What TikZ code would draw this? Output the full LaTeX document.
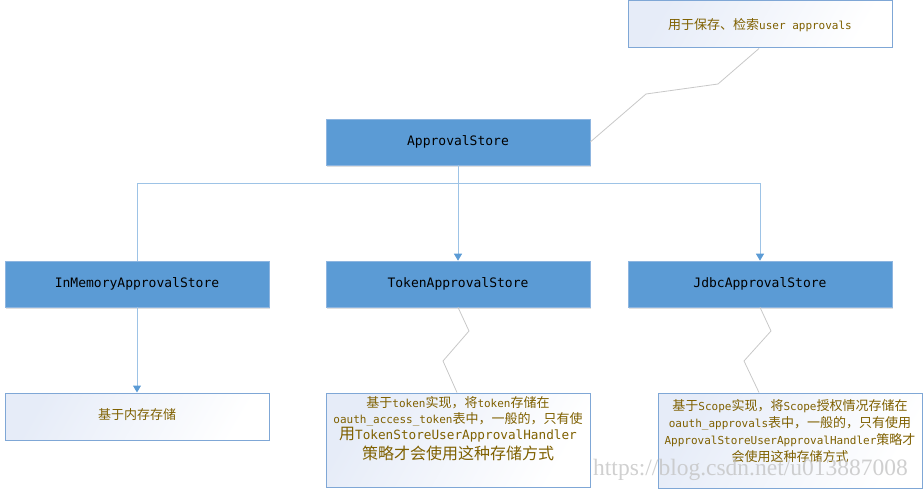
\documentclass[tikz,border=0pt]{standalone}
\usepackage{fontspec}
\setmonofont{DejaVu Sans Mono}
\newfontfamily\cjk{Noto Sans CJK SC}
\newfontfamily\wmfont{Liberation Serif}
\usetikzlibrary{arrows.meta,shadows}
\definecolor{boxblue}{HTML}{5B9BD5}
\definecolor{boxedge}{HTML}{8DB5E0}
\definecolor{connblue}{HTML}{9DC3E6}
\definecolor{noteedge}{HTML}{7FA7D6}
\definecolor{notetop}{HTML}{E6ECF8}
\definecolor{notetext}{HTML}{7F6000}
\definecolor{callgray}{HTML}{C8C8C8}
\definecolor{wmgray}{HTML}{C4C4C4}
\newcommand\Zs[1]{{\cjk\fontsize{13}{15.5}\selectfont #1}}
\newcommand\Ls[1]{{\ttfamily\fontsize{11}{15.5}\selectfont #1}}
\newcommand\Zb[1]{{\cjk\fontsize{16}{18}\selectfont #1}}
\newcommand\Lb[1]{{\ttfamily\fontsize{12.7}{18}\selectfont #1}}
\tikzset{
  bluebox/.style={rectangle, fill=boxblue, draw=boxedge, line width=0.6pt,
    minimum width=264pt, minimum height=46pt, inner sep=0pt,
    font=\ttfamily\fontsize{13}{15}\selectfont, text=black,
    drop shadow={shadow xshift=1pt, shadow yshift=-2pt, opacity=0.25, fill=gray}},
  notebox/.style={rectangle, draw=noteedge, line width=1pt,
    left color=notetop, right color=white, shading angle=60,
    inner sep=0pt, text=notetext},
  notetxt/.style={align=center, text=notetext, inner sep=0pt,
    font=\fontsize{13}{15.5}\selectfont},
  conn/.style={draw=connblue, line width=1pt},
  connarrow/.style={conn, -{Triangle[width=8pt,length=7pt,fill=boxblue,color=boxblue]}},
  callout/.style={draw=callgray, line width=0.8pt},
}
\begin{document}
\begin{tikzpicture}[x=1pt,y=-1pt]
\useasboundingbox (0,0) rectangle (924,489);
% blue boxes
\node[bluebox] (as) at (458,142) {ApprovalStore};
\node[bluebox] (inmem) at (137,284) {InMemoryApprovalStore};
\node[bluebox] (token) at (458,284) {TokenApprovalStore};
\node[bluebox] (jdbc) at (760,284) {JdbcApprovalStore};
% notes
\node[notebox, minimum width=264pt, minimum height=47pt] (topnote) at (760,24.5) {};
\node[notetxt] (topnotetext) at (760,25) {\Zs{用于保存、检索}\Ls{user approvals}};
\node[notebox, minimum width=264pt, minimum height=47pt] (memnote) at (137,416.5) {};
\node[notetxt] (memnotetext) at (137,415) {\Zs{基于内存存储}};
\node[notebox, minimum width=264pt, minimum height=94pt] (tokennote) at (458,440) {};
\node[notetxt, anchor=north] (tokennotetext) at (458,396) {%
\Zs{基于}\Ls{token}\Zs{实现，将}\Ls{token}\Zs{存储在}\\[1pt]
\Ls{oauth\_access\_token}\Zs{表中，一般的，只有使}\\[0.5pt]
\Zb{用}\Lb{TokenStoreUserApprovalHandler}\\[3pt]
\Zb{策略才会使用这种存储方式}};
\node[notebox, minimum width=264pt, minimum height=95pt] (jdbcnote) at (790,440.5) {};
\node[notetxt, anchor=north] (jdbcnotetext) at (790,399.5) {%
\Zs{基于}\Ls{Scope}\Zs{实现，将}\Ls{Scope}\Zs{授权情况存储在}\\[1.5pt]
\Ls{oauth\_approvals}\Zs{表中，一般的，只有使用}\\[1.5pt]
\Ls{ApprovalStoreUserApprovalHandler}\Zs{策略才}\\[1.5pt]
\Zs{会使用这种存储方式}};
% connectors
\coordinate (junc) at (458,184);
\draw[conn] (as.south) -- (junc) -| (inmem.north);
\draw[connarrow] (junc) -- (token.north);
\draw[connarrow] (junc) -| (jdbc.north);
\draw[connarrow] (inmem.south) -- (memnote.north);
% callouts
\coordinate (c1a) at (718,84);
\coordinate (c1b) at (646,94);
\draw[callout] (topnote.south) ++(-1,0) coordinate (c1s) -- (c1a) -- (c1b) -- (as.east);
\coordinate (c2a) at (469,331);
\coordinate (c2b) at (443,361);
\draw[callout] (token.south) -- (c2a) -- (c2b) -- ([xshift=-1pt]tokennote.north);
\coordinate (c3a) at (771,331);
\coordinate (c3b) at (744,361);
\draw[callout] (jdbc.south) -- (c3a) -- (c3b) -- ([xshift=-31pt]jdbcnote.north);
% watermark
\node[anchor=base west, inner sep=0pt, text=wmgray, opacity=0.8,
      font=\wmfont\fontsize{23.5}{26}\selectfont] (wm) at (593,475) {https://blog.csdn.net/u013887008};
\end{tikzpicture}
\end{document}
